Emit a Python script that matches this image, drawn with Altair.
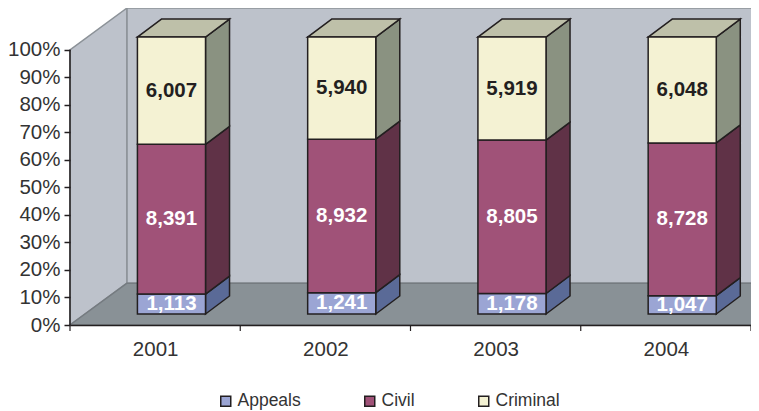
import altair as alt
import pandas as pd

years = ["2001", "2002", "2003", "2004"]
series = ["Appeals", "Civil", "Criminal"]
appeals = [1113, 1241, 1178, 1047]
civil = [8391, 8932, 8805, 8728]
criminal = [6007, 5940, 5919, 6048]
y_ticks = list(range(0, 101, 10))

front_colors = ["#9BA5D4", "#A05278", "#F4F2D3"]
side_colors = ["#5A6A97", "#603247", "#8A9281"]
top_color = "#BEC0A9"
wall_color = "#BDC2CB"
wall_edge = "#8C9298"
floor_color = "#899196"
ink = "#231F20"

PLOT_W, PLOT_H = 681, 317
Y_MAX = 115.2
# 3-D projection, in axis units
WALL_DX, WALL_DY = 0.335, 15.2
BAR_LEFT, BAR_W = 0.396, 0.4
BAR_DX, BAR_DY = 0.141, 6.54
BAR_BASE, BAR_SCALE = 4.0, 1.0065

rows_front, rows_side, rows_top, rows_text = [], [], [], []
for i, yr in enumerate(years):
    vals = [appeals[i], civil[i], criminal[i]]
    total = sum(vals)
    left = i + BAR_LEFT
    right = left + BAR_W
    cum = 0
    for j, v in enumerate(vals):
        low = BAR_BASE + cum / total * 100 * BAR_SCALE
        cum += v
        high = BAR_BASE + cum / total * 100 * BAR_SCALE
        rows_front.append(dict(x=left, x2=right, y=low, y2=high, series=series[j]))
        rows_text.append(dict(x=(left + right) / 2, y=(low + high) / 2,
                              label=f"{v:,}", dark=series[j] == "Criminal"))
        fid = f"{yr}-{j}"
        rows_side.append(dict(x=right, y=low, y2=high, id=fid, fill=side_colors[j]))
        rows_side.append(dict(x=right + BAR_DX, y=low + BAR_DY, y2=high + BAR_DY,
                              id=fid, fill=side_colors[j]))
    top = BAR_BASE + 100 * BAR_SCALE
    rows_top.append(dict(y=top, x=left, x2=right, id=yr))
    rows_top.append(dict(y=top + BAR_DY, x=left + BAR_DX, x2=right + BAR_DX, id=yr))

x_scale = alt.Scale(domain=[0, 4], nice=False, zero=False)
y_scale = alt.Scale(domain=[0, Y_MAX], nice=False, zero=False)
X = alt.X("x:Q", scale=x_scale, title=None,
          axis=alt.Axis(values=[0.5, 1.5, 2.5, 3.5],
                        labelExpr="['2001','2002','2003','2004'][floor(datum.value)]",
                        ticks=False, grid=False, domainColor=ink, domainWidth=1.5,
                        labelFont="Liberation Sans", labelFontSize=20.5, labelColor="#333333",
                        labelPadding=14, zindex=1, labelFlush=False))
Y = alt.Y("y:Q", scale=y_scale, title=None,
          axis=alt.Axis(values=y_ticks, labelExpr="datum.value + '%'", grid=False,
                        domain=False, tickColor=ink, tickWidth=1.5, tickSize=6,
                        labelFont="Liberation Sans", labelFontSize=20.5, labelColor="#333333",
                        labelPadding=4, zindex=1))
X2 = alt.X2("x2:Q")
Y2 = alt.Y2("y2:Q")

left_wall = alt.Chart(pd.DataFrame([
    dict(x=0, y=0, y2=100), dict(x=WALL_DX, y=WALL_DY, y2=100 + WALL_DY)
])).mark_area(color=wall_color, stroke=wall_edge, strokeWidth=1.5).encode(x=X, y=Y, y2=Y2)

back_wall = alt.Chart(pd.DataFrame([
    dict(x=WALL_DX, x2=4 + WALL_DX, y=WALL_DY, y2=100 + WALL_DY)
])).mark_rect(color=wall_color, stroke=wall_edge, strokeWidth=1.5).encode(x=X, x2=X2, y=Y, y2=Y2)

floor = alt.Chart(pd.DataFrame([
    dict(y=0, x=0, x2=4), dict(y=WALL_DY, x=WALL_DX, x2=4 + WALL_DX)
])).mark_area(orient="horizontal", color=floor_color, stroke="#757B80", strokeWidth=1.5).encode(
    y=Y, x=X, x2=X2)

front = alt.Chart(pd.DataFrame(rows_front)).mark_rect(stroke=ink, strokeWidth=1.5).encode(
    x=X, x2=X2, y=Y, y2=Y2,
    color=alt.Color("series:N",
                    scale=alt.Scale(domain=series, range=front_colors),
                    sort=series,
                    legend=alt.Legend(title=None, orient="none", direction="horizontal",
                                      legendX=147, legendY=384, columnPadding=60,
                                      symbolType="square", symbolSize=100,
                                      symbolStrokeColor=ink, symbolStrokeWidth=1.5,
                                      labelFont="Liberation Sans", labelFontSize=17.5,
                                      labelColor="#333333", padding=0, labelOffset=3)))

side = alt.Chart(pd.DataFrame(rows_side)).mark_area(stroke=ink, strokeWidth=1.5).encode(
    x=X, y=Y, y2=Y2, detail="id:N", fill=alt.Fill("fill:N", scale=None, legend=None))

top_face = alt.Chart(pd.DataFrame(rows_top)).mark_area(
    orient="horizontal", color=top_color, stroke=ink, strokeWidth=1.5).encode(
    y=Y, x=X, x2=X2, detail="id:N")

text_df = pd.DataFrame(rows_text)
txt_args = dict(font="Liberation Sans", fontSize=20.5, fontWeight="bold", align="center", baseline="middle")
text_dark = alt.Chart(text_df[text_df.dark]).mark_text(color=ink, **txt_args).encode(
    x=X, y=Y, text="label:N")
text_light = alt.Chart(text_df[~text_df.dark]).mark_text(color="#FFFFFF", **txt_args).encode(
    x=X, y=Y, text="label:N")

y_line = alt.Chart(pd.DataFrame([dict(x=0, y=0, y2=100)])).mark_rule(color=ink, strokeWidth=1.5).encode(
    x=X, y=Y, y2=Y2)
x_ticks = alt.Chart(pd.DataFrame({"x": [0, 1, 2, 3, 4]})).mark_rule(color=ink, strokeWidth=1.2).encode(
    x=X, y=alt.value(PLOT_H), y2=alt.value(PLOT_H + 6))

chart = alt.layer(left_wall, back_wall, floor, side, top_face, front, y_line, x_ticks,
                  text_dark, text_light).resolve_scale(fill="independent").properties(
    width=PLOT_W, height=PLOT_H,
    autosize=alt.AutoSizeParams(type="none"),
    padding={"left": 62, "top": 0, "right": 0, "bottom": 86},
    background="#FFFFFF",
).configure_view(stroke=None)

chart.save("out.html", embed_options={"renderer": "svg", "actions": False})
